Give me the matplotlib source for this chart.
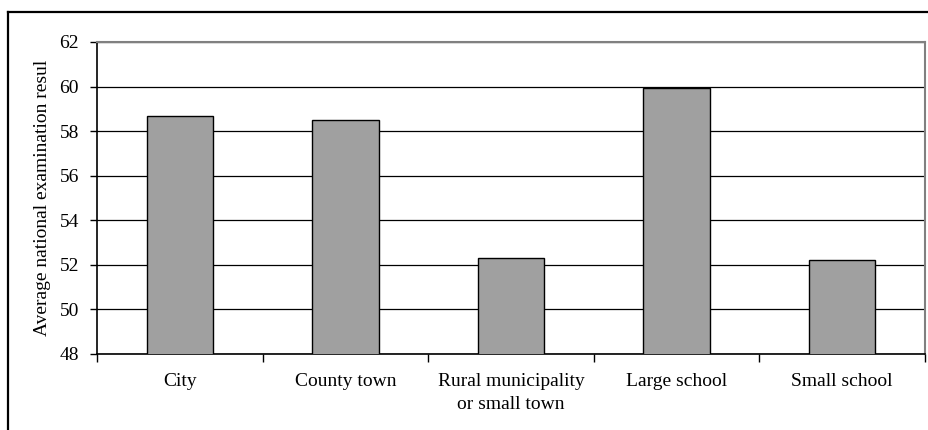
import matplotlib
matplotlib.use("Agg")
import matplotlib.pyplot as plt
from matplotlib.lines import Line2D
import numpy as np

categories = ["City", "County town", "Rural municipality\nor small town", "Large school", "Small school"]
values = [58.7, 58.5, 52.3, 59.95, 52.2]
y_ticks = [48, 50, 52, 54, 56, 58, 60, 62]
y_label = "Average national examination resul"

plt.rcParams["font.family"] = ["Liberation Serif", "DejaVu Serif"]

fig = plt.figure(figsize=(9.29, 4.30), dpi=100)
ax = fig.add_axes([97 / 929, 1 - 354 / 430, (925 - 97) / 929, (354 - 42) / 430])

x = np.arange(len(categories))
ax.bar(x, values, width=0.4, bottom=0, color="#a0a0a0", edgecolor="black", linewidth=1.0, zorder=3)

ax.set_xlim(-0.5, len(categories) - 0.5)
ax.set_ylim(48, 62)
ax.set_yticks(y_ticks)
ax.yaxis.grid(True, color="black", linewidth=0.9, zorder=0)
ax.set_axisbelow(True)

# category labels centred under bars, ticks on category boundaries
ax.set_xticks(x)
ax.set_xticklabels(categories, fontsize=14, linespacing=1.45)
ax.tick_params(axis="x", length=0, pad=14)
ax.set_xticks(np.arange(-0.5, len(categories)), minor=True)
ax.tick_params(axis="x", which="minor", length=6, width=1, direction="out", color="black")
ax.tick_params(axis="y", length=5, width=1, direction="out", labelsize=14, pad=8)

ax.set_ylabel(y_label, fontsize=14, labelpad=6)

for side in ("top", "right"):
    ax.spines[side].set_color("#808080")
    ax.spines[side].set_linewidth(1.5)
for side in ("left", "bottom"):
    ax.spines[side].set_color("black")
    ax.spines[side].set_linewidth(1.2)

# outer frame of the chart area
fig.add_artist(Line2D([8 / 929, 8 / 929], [0, 1 - 12 / 430], transform=fig.transFigure,
                      color="black", linewidth=1.6))
fig.add_artist(Line2D([8 / 929, 1], [1 - 12 / 430, 1 - 12 / 430], transform=fig.transFigure,
                      color="black", linewidth=1.6))

fig.savefig("out.png", dpi=100)
